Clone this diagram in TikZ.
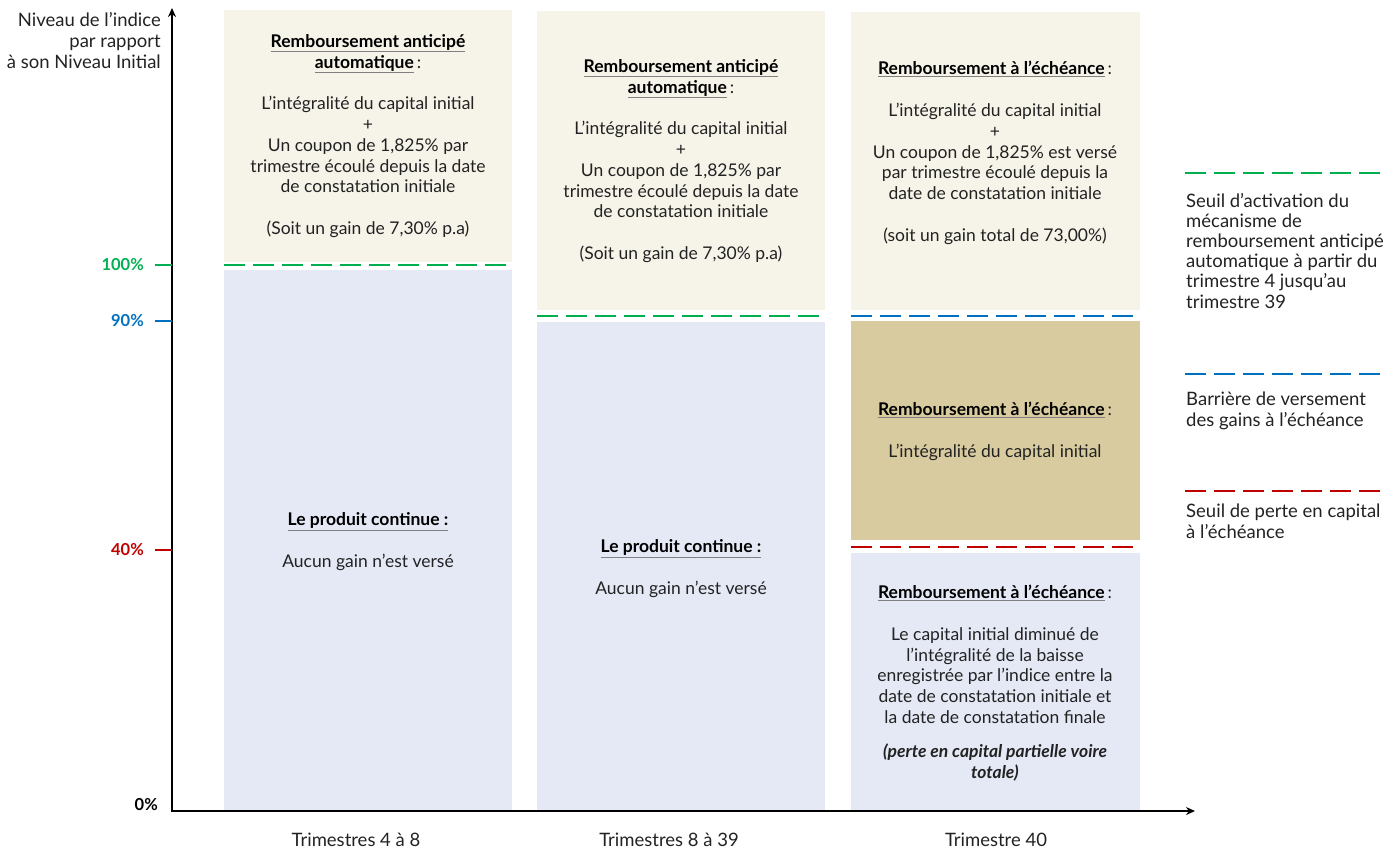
\documentclass[tikz,border=0pt]{standalone}
\usepackage{fontspec}
\setmainfont{Lato}
\usetikzlibrary{arrows.meta}
\definecolor{fondbeige}{HTML}{F6F3E9}
\definecolor{fondbleu}{HTML}{E4E9F5}
\definecolor{fondsable}{HTML}{D8CB9F}
\definecolor{vertseuil}{HTML}{00B050}
\definecolor{bleuseuil}{HTML}{0070C0}
\definecolor{rougeseuil}{HTML}{C00000}
\definecolor{gristexte}{HTML}{222222}
\newcommand{\titre}[1]{{\color{gray}\underline{\color{black}\textbf{#1}}}}
\tikzset{
  txt/.style={align=center, text=gristexte, inner sep=0pt, font=\fontsize{17.5}{20.8}\selectfont},
  grandtxt/.style={txt, font=\fontsize{18.5}{20.6}\selectfont},
  seuil/.style={line width=2.5pt, dash pattern=on 21pt off 8pt},
  axe/.style={line width=2pt, -{Stealth[length=9pt,width=8pt]}},
  pct/.style={anchor=east, inner sep=0pt, font=\fontsize{16.5}{18}\selectfont\bfseries},
}

\begin{document}
\begin{tikzpicture}[x=1pt,y=-1pt]
			%%%%% START %%%%%
			\useasboundingbox (0,0) rectangle (1391,849);
			
			% colonne 1
			\fill[fondbeige] (224, 10) rectangle (512, 262);
			\fill[fondbleu] (224, 270) rectangle (512, 811);
			\draw[seuil, vertseuil] (224, 265) -- (512, 265);
			
			% colonne 2
			\fill[fondbeige] (537, 11) rectangle (825, 310);
			\fill[fondbleu] (537, 322) rectangle (825, 811);
			\draw[seuil, vertseuil] (537, 316) -- (825, 316);
			
			% colonne 3
			\fill[fondbeige] (851, 12) rectangle (1140, 310);
			\draw[seuil, bleuseuil] (851, 316) -- (1140, 316);
			\fill[fondsable] (851, 321) rectangle (1140, 540);
			\draw[seuil, rougeseuil] (851, 547) -- (1140, 547);
			\fill[fondbleu] (851, 553) rectangle (1140, 811);
			
			% axes
			\coordinate (origine) at (172, 811);
			\coordinate (haut) at (172, 8);
			\coordinate (droite) at (1195, 811);
			\draw[axe] (origine) -- (haut);
			\draw[axe] ([xshift=-1pt]origine) -- (droite);
			
			\draw[line width=2pt, vertseuil] (155, 265) -- (172, 265);
			\draw[line width=2pt, bleuseuil] (155, 321) -- (172, 321);
			\draw[line width=2pt, rougeseuil] (155, 550) -- (172, 550);
			
			\node[pct, text=vertseuil] (p100) at (144, 265) {100\%};
			\node[pct, text=bleuseuil] (p90) at (144, 321) {90\%};
			\node[pct, text=rougeseuil] (p40) at (144, 550) {40\%};
			\node[pct, text=black] (p0) at (158, 805) {0\%};
			
			\node[grandtxt, align=right, anchor=east] (niveau) at (161, 40.5) {Niveau de l’indice\\par rapport\\à son Niveau Initial};
			
			% textes des colonnes
			\node[txt] (auto1) at (368, 136) {\titre{Remboursement anticipé}\\\titre{automatique}\,:\\[20.8pt]
				L’intégralité du capital initial\\+\\Un coupon de 1,825\% par\\trimestre écoulé depuis la date\\de constatation initiale\\[20.8pt]
				(Soit un gain de 7,30\% p.a)};
			\node[txt] (continue1) at (368, 541.5) {\titre{Le produit continue :}\\[20.8pt]Aucun gain n’est versé};
			
			\node[txt] (auto2) at (681, 161) {\titre{Remboursement anticipé}\\\titre{automatique}\,:\\[20.8pt]
				L’intégralité du capital initial\\+\\Un coupon de 1,825\% par\\trimestre écoulé depuis la date\\de constatation initiale\\[20.8pt]
				(Soit un gain de 7,30\% p.a)};
			\node[txt] (continue2) at (681, 568.5) {\titre{Le produit continue :}\\[20.8pt]Aucun gain n’est versé};
			
			\node[txt] (echeance1) at (995, 153) {\titre{Remboursement à l’échéance}\,:\\[20.8pt]
				L’intégralité du capital initial\\+\\Un coupon de 1,825\% est versé\\par trimestre écoulé depuis la\\date de constatation initiale\\[20.8pt]
				(soit un gain total de 73,00\%)};
			\node[txt] (echeance2) at (995, 431.5) {\titre{Remboursement à l’échéance}\,:\\[20.8pt]L’intégralité du capital initial};
			\node[txt] (echeance3) at (995, 683) {\titre{Remboursement à l’échéance}\,:\\[20.8pt]
				Le capital initial diminué de\\l’intégralité de la baisse\\enregistrée par l’indice entre la\\date de constatation initiale et\\la date de constatation finale\\[13pt]
				\textbf{\textit{(perte en capital partielle voire}}\\\textbf{\textit{totale)}}};
			
			% periodes
			\node[grandtxt] (periode1) at (356, 839.5) {Trimestres 4 à 8};
			\node[grandtxt] (periode2) at (669, 839.5) {Trimestres 8 à 39};
			\node[grandtxt] (periode3) at (996, 839.5) {Trimestre 40};
			
			% legende
			\draw[seuil, vertseuil] (1185, 173) -- (1383, 173);
			\node[grandtxt, align=left, anchor=west, font=\fontsize{18.5}{20.2}\selectfont] (legvert) at (1186, 250.5) {Seuil d’activation du\\mécanisme de\\remboursement anticipé\\automatique à partir du\\trimestre 4 jusqu’au\\trimestre 39};
			\draw[seuil, bleuseuil] (1185, 374) -- (1383, 374);
			\node[grandtxt, align=left, anchor=west] (legbleu) at (1186, 411) {Barrière de versement\\des gains à l’échéance};
			\draw[seuil, rougeseuil] (1185, 491) -- (1383, 491);
			\node[grandtxt, align=left, anchor=west] (legrouge) at (1186, 521.5) {Seuil de perte en capital\\à l’échéance};
			
			%%%%% END %%%%%
\end{tikzpicture}
\end{document}
